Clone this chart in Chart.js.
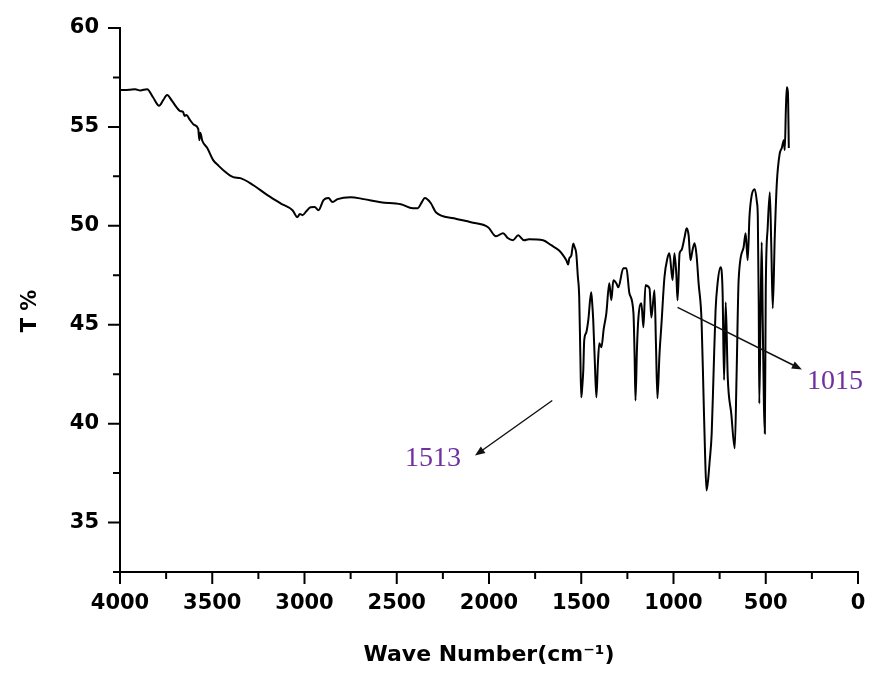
<!DOCTYPE html>
<html>
<head>
<meta charset="utf-8">
<script src="https://cdn.jsdelivr.net/npm/chart.js@4.4.1/dist/chart.umd.min.js"></script>
<style>
  html, body { margin: 0; padding: 0; background: #fff; }
</style>
</head>
<body>
<canvas id="chart" width="872" height="673"></canvas>
<script>
// FTIR spectrum: wave number (cm-1) and transmittance (%)
const waveNumber = [
    4000, 3950, 3918, 3890, 3853, 3821, 3788, 3766, 3745, 3717,
    3690, 3674, 3658, 3650, 3641, 3620, 3598, 3576, 3570, 3565,
    3554, 3527, 3495, 3467, 3440, 3386, 3348, 3277, 3201, 3130,
    3065, 3038, 3025, 3011, 2989, 2967, 2945, 2924, 2897, 2870,
    2848, 2821, 2750, 2679, 2587, 2478, 2413, 2386, 2364, 2348,
    2315, 2288, 2190, 2098, 2005, 1962, 1924, 1897, 1870, 1842,
    1810, 1783, 1707, 1663, 1620, 1598, 1581, 1571, 1565, 1554,
    1543, 1535, 1527, 1519, 1511, 1505, 1500, 1495, 1489, 1484,
    1473, 1462, 1446, 1440, 1435, 1426, 1418, 1410, 1402, 1391,
    1378, 1364, 1348, 1337, 1326, 1310, 1299, 1272, 1255, 1239,
    1217, 1211, 1206, 1198, 1190, 1174, 1163, 1152, 1130, 1120,
    1103, 1095, 1087, 1076, 1065, 1049, 1033, 1022, 1005, 995,
    985, 978, 967, 957, 940, 929, 918, 908, 897, 886,
    875, 864, 848, 837, 829, 821, 812, 804, 793, 783,
    772, 761, 745, 734, 726, 717, 706, 687, 668, 658,
    647, 620, 609, 598, 588, 576, 560, 548, 543, 538,
    535, 528, 522, 516, 510, 505, 500, 489, 478, 470,
    462, 451, 440, 424, 413, 402, 397, 391, 386, 380,
    375
];
const transmittance = [
    56.86, 56.88, 56.91, 56.84, 56.91, 56.50, 56.07, 56.35, 56.61, 56.30,
    55.95, 55.80, 55.75, 55.55, 55.60, 55.34, 55.10, 54.90, 54.33, 54.70,
    54.30, 53.93, 53.32, 53.05, 52.81, 52.46, 52.41, 52.05, 51.55, 51.14,
    50.79, 50.44, 50.60, 50.54, 50.75, 50.94, 50.95, 50.79, 51.30, 51.40,
    51.20, 51.35, 51.45, 51.35, 51.19, 51.09, 50.89, 50.89, 51.20, 51.40,
    51.14, 50.69, 50.38, 50.18, 49.93, 49.47, 49.63, 49.37, 49.27, 49.52,
    49.27, 49.32, 49.27, 49.02, 48.75, 48.51, 48.26, 48.05, 48.35, 48.50,
    49.10, 48.90, 48.60, 47.50, 46.39, 43.50, 41.33, 41.80, 42.70, 44.20,
    44.60, 45.22, 46.64, 46.00, 45.22, 43.00, 41.33, 43.00, 44.06, 43.86,
    44.80, 45.58, 47.10, 46.24, 47.25, 47.10, 46.89, 47.85, 47.85, 46.59,
    45.58, 43.50, 41.17, 43.80, 45.37, 46.08, 44.87, 47.00, 46.84, 45.37,
    46.74, 44.00, 41.28, 43.50, 45.07, 47.40, 48.36, 48.61, 47.25, 48.61,
    47.60, 46.24, 48.61, 48.77, 49.42, 49.88, 49.52, 48.26, 48.77, 49.12,
    48.50, 47.10, 45.22, 41.33, 38.50, 36.62, 37.20, 38.10, 39.50, 42.50,
    45.73, 47.10, 47.90, 46.70, 42.20, 46.13, 42.34, 40.52, 38.75, 42.50,
    47.25, 48.92, 49.63, 48.26, 50.50, 51.55, 51.85, 51.20, 50.44, 46.00,
    41.02, 45.50, 49.17, 45.00, 41.00, 39.50, 46.70, 50.00, 51.70, 49.00,
    45.83, 49.50, 52.16, 53.67, 53.93, 54.33, 53.83, 55.85, 57.01, 56.76,
    53.93
];

const xTicks = [4000, 3500, 3000, 2500, 2000, 1500, 1000, 500, 0];
const xMinorTicks = [3750, 3250, 2750, 2250, 1750, 1250, 750, 250];
const yTicks = [35, 40, 45, 50, 55, 60];
const yMinorTicks = [32.5, 37.5, 42.5, 47.5, 52.5, 57.5];

// peak callouts: label, point on the peak, arrow tip, text centre (data units)
const calloutLabels = ['1513', '1015'];
const calloutFrom = [[1657, 41.17], [978, 45.88]];
const calloutTo = [[2076, 38.39], [304, 42.74]];
const calloutText = [[2304, 38.24], [125, 42.14]];

const points = waveNumber.map((w, i) => ({ x: w, y: transmittance[i] }));

const tickFont = { family: "'DejaVu Sans', sans-serif", weight: 'bold', size: 21 };

const tickMarks = {
    id: 'tickMarks',
    afterDraw(chart) {
        const { ctx, chartArea: area, scales: { x, y } } = chart;
        ctx.save();
        ctx.strokeStyle = '#000';
        ctx.lineWidth = 2;
        ctx.beginPath();
        xTicks.forEach(v => {
            const px = x.getPixelForValue(v);
            ctx.moveTo(px, area.bottom);
            ctx.lineTo(px, area.bottom + 12);
        });
        xMinorTicks.forEach(v => {
            const px = x.getPixelForValue(v);
            ctx.moveTo(px, area.bottom);
            ctx.lineTo(px, area.bottom + 7);
        });
        yTicks.forEach(v => {
            const py = y.getPixelForValue(v);
            ctx.moveTo(area.left, py);
            ctx.lineTo(area.left - 12, py);
        });
        yMinorTicks.forEach(v => {
            const py = y.getPixelForValue(v);
            ctx.moveTo(area.left, py);
            ctx.lineTo(area.left - 7, py);
        });
        ctx.stroke();
        ctx.restore();
    }
};

const callouts = {
    id: 'callouts',
    afterDatasetsDraw(chart) {
        const { ctx, scales: { x, y } } = chart;
        ctx.save();
        calloutLabels.forEach((label, i) => {
            const x0 = x.getPixelForValue(calloutFrom[i][0]);
            const y0 = y.getPixelForValue(calloutFrom[i][1]);
            const x1 = x.getPixelForValue(calloutTo[i][0]);
            const y1 = y.getPixelForValue(calloutTo[i][1]);
            const ang = Math.atan2(y1 - y0, x1 - x0);
            ctx.strokeStyle = '#111';
            ctx.fillStyle = '#111';
            ctx.lineWidth = 1.5;
            ctx.beginPath();
            ctx.moveTo(x0, y0);
            ctx.lineTo(x1 - 6 * Math.cos(ang), y1 - 6 * Math.sin(ang));
            ctx.stroke();
            ctx.beginPath();
            ctx.moveTo(x1, y1);
            ctx.lineTo(x1 - 10 * Math.cos(ang) + 4 * Math.sin(ang), y1 - 10 * Math.sin(ang) - 4 * Math.cos(ang));
            ctx.lineTo(x1 - 10 * Math.cos(ang) - 4 * Math.sin(ang), y1 - 10 * Math.sin(ang) + 4 * Math.cos(ang));
            ctx.closePath();
            ctx.fill();

            ctx.fillStyle = '#7030a0';
            ctx.font = "28px 'Liberation Serif', 'Times New Roman', serif";
            ctx.textAlign = 'center';
            ctx.textBaseline = 'middle';
            ctx.fillText(label, x.getPixelForValue(calloutText[i][0]), y.getPixelForValue(calloutText[i][1]));
        });
        ctx.restore();
    }
};

new Chart(document.getElementById('chart'), {
    type: 'scatter',
    data: {
        datasets: [
            {
                label: 'T %',
                data: points,
                showLine: true,
                borderColor: '#000',
                borderWidth: 2,
                pointRadius: 0,
                cubicInterpolationMode: 'monotone',
                fill: false,
            },
        ],
    },
    plugins: [tickMarks, callouts],
    options: {
        responsive: false,
        animation: false,
        devicePixelRatio: 1,
        layout: {
            padding: { top: 28, right: 14, left: 0, bottom: 0 },
        },
        plugins: {
            legend: { display: false },
            tooltip: { enabled: false },
        },
        scales: {
            x: {
                type: 'linear',
                min: 0,
                max: 4000,
                reverse: true,
                afterFit(scale) {
                    scale.height = 101;
                    scale.paddingLeft = 0;
                    scale.paddingRight = 0;
                },
                afterBuildTicks(scale) { scale.ticks = xTicks.map(v => ({ value: v })); },
                grid: { drawOnChartArea: false, drawTicks: false },
                border: { display: true, color: '#000', width: 2 },
                ticks: {
                    color: '#000',
                    font: tickFont,
                    padding: 19,
                    maxRotation: 0,
                    autoSkip: false,
                    callback: v => String(v),
                },
                title: {
                    display: true,
                    text: 'Wave Number(cm\u207B\u00B9)',
                    color: '#000',
                    font: { family: "'DejaVu Sans', sans-serif", weight: 'bold', size: 22 },
                    padding: { top: 0, bottom: 5 },
                },
            },
            y: {
                type: 'linear',
                min: 32.5,
                max: 60,
                afterFit(scale) {
                    scale.width = 120;
                    scale.paddingTop = 0;
                    scale.paddingBottom = 0;
                },
                afterBuildTicks(scale) { scale.ticks = yTicks.map(v => ({ value: v })); },
                grid: { drawOnChartArea: false, drawTicks: false },
                border: { display: true, color: '#000', width: 2 },
                ticks: { color: '#000', font: tickFont, padding: 21, callback: v => String(v) },
                title: {
                    display: true,
                    text: 'T %   ',
                    color: '#000',
                    font: { family: "'DejaVu Sans', sans-serif", weight: 'bold', size: 21 },
                    padding: { top: 18, bottom: 0 },
                },
            },
        },
    },
});
</script>
</body>
</html>
